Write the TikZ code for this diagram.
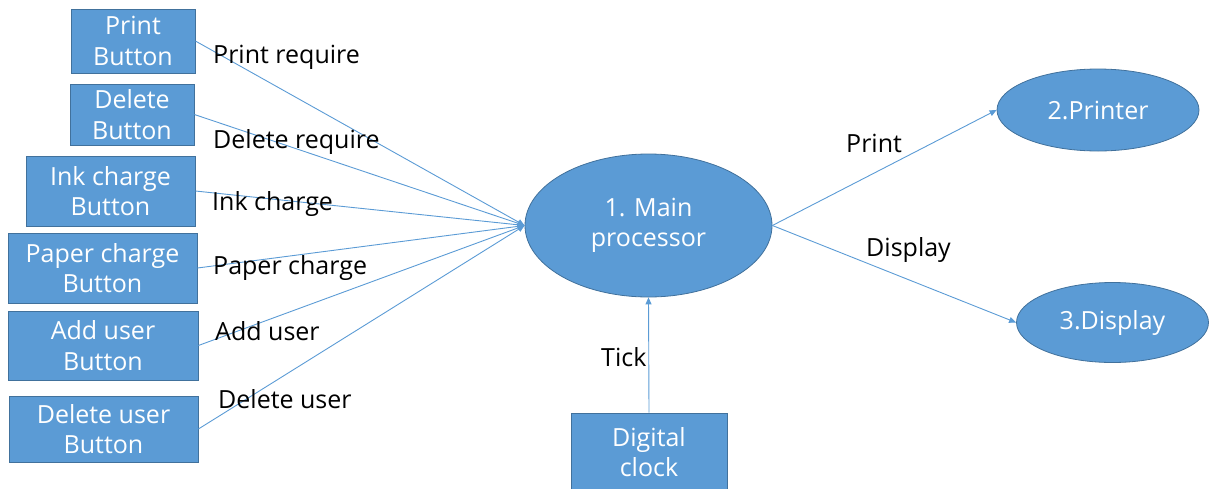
\documentclass[tikz,border=0pt]{standalone}
\usepackage{fontspec}
\setmainfont{Open Sans}
\usetikzlibrary{shapes.geometric,arrows.meta}
\definecolor{boxfill}{HTML}{5B9BD5}
\definecolor{boxline}{HTML}{41719C}
\definecolor{connc}{HTML}{5B9BD5}
\tikzset{
  every node/.style={font=\fontsize{25}{30.5}\selectfont},
  btn/.style={draw=boxline, line width=0.8pt, fill=boxfill, text=white, align=center, inner sep=0pt},
  proc/.style={ellipse, draw=boxline, line width=0.8pt, fill=boxfill, text=white, align=center, inner sep=0pt},
  conn/.style={draw=connc, line width=0.9pt, -{Triangle[length=7pt,width=6pt]}},
  lbl/.style={text=black, anchor=base west, inner sep=0pt},
}
\begin{document}
\begin{tikzpicture}[x=1pt,y=-1pt]
\useasboundingbox (0,0) rectangle (1215,488);
% buttons
\node[btn, minimum width=124pt, minimum height=64pt] (pb) at (133,41) {Print\\Button};
\node[btn, minimum width=124pt, minimum height=61pt] (db) at (132,114.5) {Delete\\Button};
\node[btn, minimum width=169pt, minimum height=70pt] (ib) at (110.5,191) {Ink charge\\Button};
\node[btn, minimum width=189pt, minimum height=70pt] (ppb) at (102.5,268) {Paper charge\\Button};
\node[btn, minimum width=190pt, minimum height=69pt] (ab) at (103,345.5) {Add user\\Button};
\node[btn, minimum width=189pt, minimum height=66pt] (dub) at (103.5,429) {Delete user\\Button};
\node[btn, minimum width=156pt, minimum height=78pt] (clk) at (649,452) {Digital\\clock};
% processes
\node[proc, minimum width=247pt, minimum height=143pt] (main) at (648.5,225.5) {1. Main\\processor};
\node[proc, minimum width=202pt, minimum height=82pt] (prn) at (1098,110) {2.Printer};
\node[proc, minimum width=192pt, minimum height=80pt] (dsp) at (1112.5,322.5) {3.Display};
% connectors
\draw[conn] (pb.east) -- (main.west);
\draw[conn] (db.east) -- (main.west);
\draw[conn] (ib.east) -- (main.west);
\draw[conn] (ppb.east) -- (main.west);
\draw[conn] (ab.east) -- (main.west);
\draw[conn] (dub.east) -- (main.west);
\draw[conn] (main.east) -- (prn.west);
\draw[conn] (main.east) -- (dsp.west);
\draw[conn] (clk.north) -- (main.south);
% labels
\node[lbl] (lpr) at (213,63) {Print require};
\node[lbl] (ldr) at (213,148) {Delete require};
\node[lbl] (lic) at (212,210) {Ink charge};
\node[lbl] (lpc) at (213,274) {Paper charge};
\node[lbl] (lau) at (215,340) {Add user};
\node[lbl] (ldu) at (218,408) {Delete user};
\node[lbl] (lp) at (846,152) {Print};
\node[lbl] (ld) at (866,256) {Display};
\node[lbl] (lt) at (601,366) {Tick};
\end{tikzpicture}
\end{document}
